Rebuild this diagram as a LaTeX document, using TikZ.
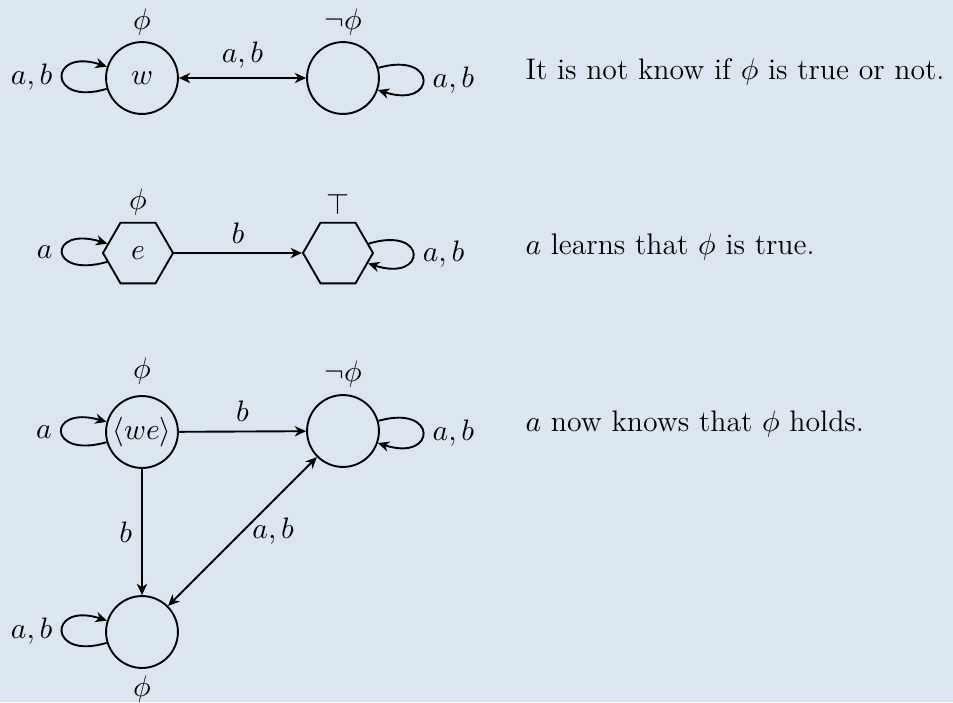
\documentclass[tikz,border=0pt]{standalone}
\usetikzlibrary{shapes.geometric,arrows.meta}
\definecolor{bgblue}{RGB}{219,230,240}
\tikzset{
  every node/.style={font=\fontsize{11}{13}\selectfont},
  world/.style={circle,draw,line width=0.7pt,minimum size=26.6pt,inner sep=0.5pt},
  event/.style={regular polygon,regular polygon sides=6,draw,line width=0.7pt,minimum size=25.9pt,inner sep=0pt},
  conn/.style={line width=0.7pt},
  note/.style={anchor=base west,inner sep=0pt},
  >={Stealth[length=4.2pt,width=3.8pt,inset=1.3pt]}
}
\begin{document}
\begin{tikzpicture}[x=0.37pt,y=-0.37pt]
\fill[bgblue] (0,0) rectangle (953,702);
\useasboundingbox (0,0) rectangle (953,702);
% row 1
\node[world] (w) at (142,78) {$w$};
\node[world] (n1) at (343,78) {};
\node (lw) at (142,22) {$\phi$};
\node (ln1) at (343,22) {$\neg\phi$};
\draw[conn,<->] (w) -- node[above] (e1) {$a,b$} (n1);
\draw[conn,->] (w.197) .. controls +(197:23pt) and +(162:23pt) .. node[left] (l1) {$a,b$} (w.162);
\draw[conn,->] (n1.16) .. controls +(16:23pt) and +(-18:23pt) .. node[right] (l2) {$a,b$} (n1.-19);
\node[note] (t1) at (525,79) {It is not know if $\phi$ is true or not.};
% row 2
\node[event] (e) at (138,253) {$e$};
\node[event] (h2) at (338,253) {};
\node (le) at (138,202) {$\phi$};
\node (lh2) at (338,204) {$\top$};
\draw[conn,->] (e) -- node[above] (e2) {$b$} (h2);
\draw[conn,->] (e.196) .. controls +(196:23pt) and +(163:23pt) .. node[left] (l3) {$a$} (e.163);
\draw[conn,->] (h2.17) .. controls +(17:23pt) and +(-18:23pt) .. node[right] (l4) {$a,b$} (h2.-19);
\node[note] (t2) at (525,254) {$a$ learns that $\phi$ is true.};
% row 3
\node[world] (we) at (142,432) {$\langle we\rangle$};
\node[world] (n3) at (343,431) {};
\node[world] (p3) at (142,632) {};
\node (lwe) at (142,371) {$\phi$};
\node (ln3) at (343,374) {$\neg\phi$};
\node (lp3) at (142,689) {$\phi$};
\draw[conn,->] (we) -- node[above] (e3) {$b$} (n3);
\draw[conn,->] (we) -- node[left] (e4) {$b$} (p3);
\draw[conn,<->] (n3) -- node[right] (e5) {$a,b$} (p3);
\draw[conn,->] (we.196) .. controls +(196:23pt) and +(164:23pt) .. node[left] (l5) {$a$} (we.164);
\draw[conn,->] (n3.16) .. controls +(16:23pt) and +(-18:23pt) .. node[right] (l6) {$a,b$} (n3.-19);
\draw[conn,->] (p3.197) .. controls +(197:23pt) and +(162:23pt) .. node[left] (l7) {$a,b$} (p3.162);
\node[note] (t3) at (525,431) {$a$ now knows that $\phi$ holds.};
\end{tikzpicture}
\end{document}
